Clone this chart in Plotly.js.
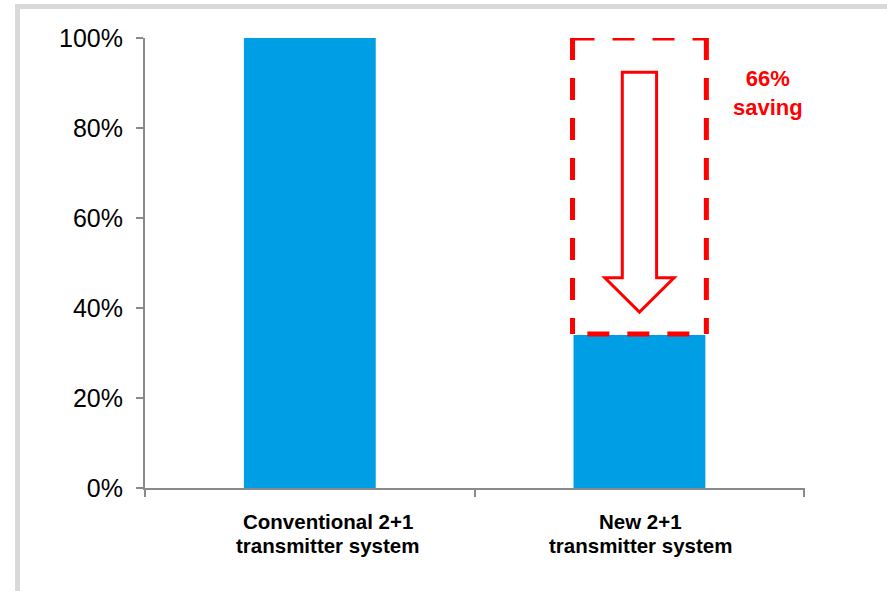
<!DOCTYPE html>
<html>
<head>
<meta charset="utf-8">
<script src="https://cdn.plot.ly/plotly-3.0.1.min.js"></script>
<style>
html,body{margin:0;padding:0;background:#fff;overflow:hidden;}
#frame{position:absolute;left:15px;top:4px;width:880px;height:640px;border:5px solid #d9d9d9;box-sizing:border-box;background:#fff;}
#chart{position:absolute;left:0;top:0;width:887px;height:591px;}
</style>
</head>
<body>
<div id="frame"></div>
<div id="chart"></div>
<script>
// Data
var categories = ["Conventional 2+1<br>transmitter system", "New 2+1<br>transmitter system"];
var values = [1.00, 0.34];
var yTicks = [0, 0.2, 0.4, 0.6, 0.8, 1.0];
var savingLabel = "66%<br>saving";

var barColor = "#009EE5";
var red = "#FF0000";
var axisGray = "#8a8a8a";

var idxNew = 1;
var vNew = values[idxNew];
var vTop = values[0];

// arrow geometry (annotation, in axis units around the second bar)
var shaftHalf = 0.052, headHalf = 0.105;
var shaftTop = 0.924, headBase = 0.467, tip = 0.391;
var arrowPath = "M " + (idxNew - shaftHalf) + "," + shaftTop +
  " L " + (idxNew + shaftHalf) + "," + shaftTop +
  " L " + (idxNew + shaftHalf) + "," + headBase +
  " L " + (idxNew + headHalf) + "," + headBase +
  " L " + idxNew + "," + tip +
  " L " + (idxNew - headHalf) + "," + headBase +
  " L " + (idxNew - shaftHalf) + "," + headBase + " Z";

var bx0 = idxNew - 0.203, bx1 = idxNew + 0.203, by0 = vNew + 0.002, by1 = vTop;
function dashedSide(xa, ya, xb, yb) {
  return {type: "line", xref: "x", yref: "y", x0: xa, y0: ya, x1: xb, y1: yb,
          line: {color: red, width: 5, dash: "22px,18px"}};
}

var trace = {
  type: "bar",
  x: categories,
  y: values,
  marker: {color: barColor, line: {width: 0}},
  hoverinfo: "skip"
};

// category labels drawn line by line (tighter line spacing, as in the original)
var annotations = [];
var labelXShift = [18, 1];
categories.forEach(function (cat, i) {
  cat.split("<br>").forEach(function (line, j) {
    annotations.push({
      xref: "x", yref: "paper", x: i, y: 0,
      xshift: labelXShift[i], yshift: -(33 + 24 * j),
      yanchor: "middle", xanchor: "center",
      text: "<b>" + line + "</b>", showarrow: false,
      font: {size: 20.5, color: "#000"}
    });
  });
});
annotations.push({
  xref: "x", yref: "y", x: 1.39, y: 0.878,
  text: savingLabel, showarrow: false,
  font: {size: 22, color: red, weight: "bold"},
  align: "center"
});

var layout = {
  width: 887, height: 591,
  margin: {l: 145, r: 82, t: 38, b: 103},
  paper_bgcolor: "rgba(0,0,0,0)",
  plot_bgcolor: "rgba(0,0,0,0)",
  showlegend: false,
  bargap: 0.6,
  font: {family: "Liberation Sans, Arial, sans-serif", color: "#000"},
  xaxis: {
    type: "category",
    tickson: "boundaries",
    ticks: "outside", ticklen: 7, tickwidth: 2, tickcolor: axisGray,
    showline: true, linecolor: axisGray, linewidth: 2,
    showgrid: false, zeroline: false,
    showticklabels: false,
    fixedrange: true
  },
  yaxis: {
    range: [0, 1],
    tickvals: yTicks,
    tickformat: ".0%",
    ticks: "outside", ticklen: 7, tickwidth: 2, tickcolor: axisGray,
    showline: true, linecolor: axisGray, linewidth: 2,
    showgrid: false, zeroline: false,
    tickfont: {size: 25, color: "#000"},
    ticklabelstandoff: 8,
    fixedrange: true
  },
  shapes: [
    dashedSide(bx0, by1, bx1, by1),
    dashedSide(bx0, by1, bx0, by0),
    dashedSide(bx1, by1, bx1, by0),
    dashedSide(bx0 + 0.045, by0, bx1, by0),
    {
      type: "path", xref: "x", yref: "y",
      path: arrowPath,
      line: {color: red, width: 3},
      fillcolor: "#ffffff"
    }
  ],
  annotations: annotations
};

Plotly.newPlot("chart", [trace], layout, {displayModeBar: false, staticPlot: true});
</script>
</body>
</html>
